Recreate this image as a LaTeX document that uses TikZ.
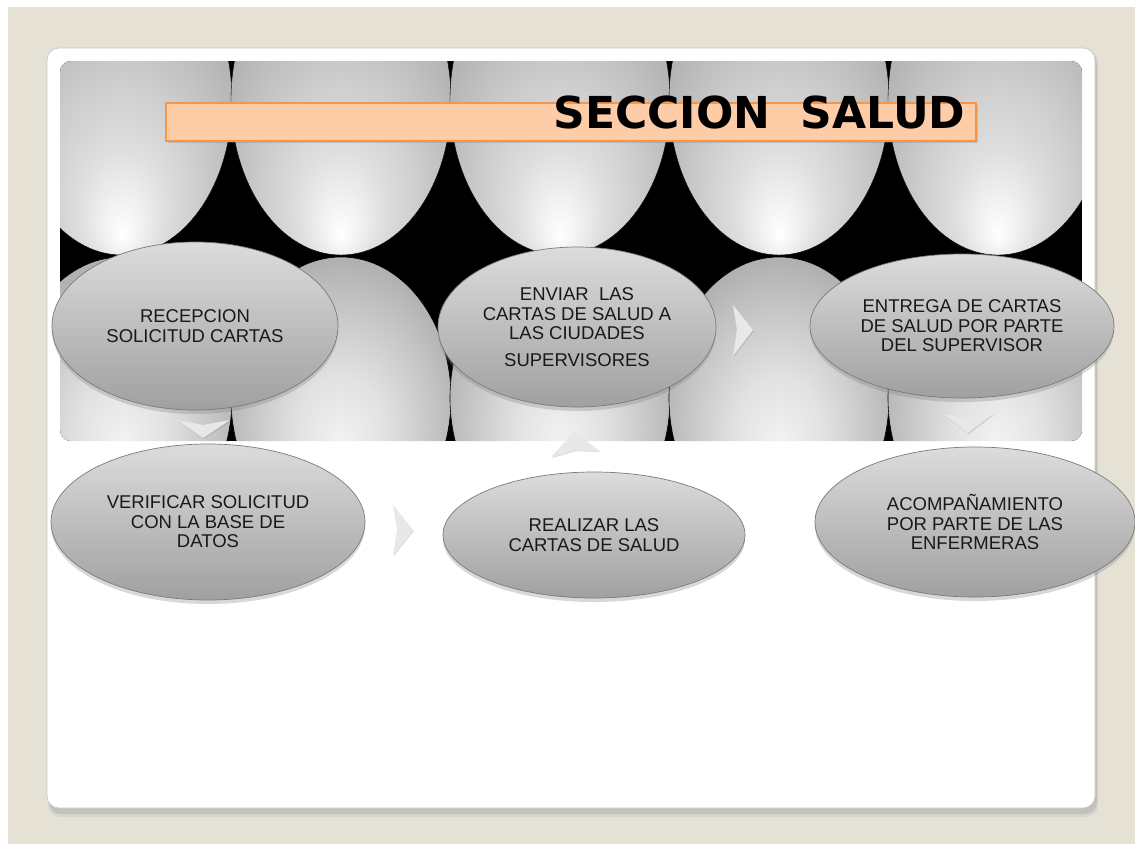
\documentclass[tikz,border=0pt]{standalone}
\usepackage{fontspec}
\setmainfont{Liberation Sans}
\newfontfamily\titlefont{DejaVu Sans}
\usetikzlibrary{shapes.geometric,shadows}

\definecolor{beige}{HTML}{E5E1D5}
\definecolor{barfill}{HTML}{FFCCA8}
\definecolor{barline}{HTML}{F79646}
\definecolor{bubtop}{HTML}{DCDCDC}
\definecolor{bubbot}{HTML}{A0A0A0}
\definecolor{bubline}{HTML}{7A7A7A}
\definecolor{chevfill}{HTML}{E8E8E8}
\definecolor{eA}{HTML}{FFFFFF}
\definecolor{eB}{HTML}{F2F2F2}
\definecolor{eC}{HTML}{DEDEDE}
\definecolor{eD}{HTML}{CCCCCC}
\definecolor{eE}{HTML}{B4B4B4}
\definecolor{eF}{HTML}{A0A0A0}
\definecolor{dA}{HTML}{F2F2F2}
\definecolor{dB}{HTML}{E2E2E2}
\definecolor{dC}{HTML}{C2C2C2}
\definecolor{dD}{HTML}{A2A2A2}
\definecolor{dE}{HTML}{9C9C9C}

\pgfdeclareradialshading{eggshade}{\pgfpoint{0bp}{-22bp}}{color(0bp)=(eA); color(4bp)=(eB); color(10bp)=(eC); color(18bp)=(eD); color(28bp)=(eE); color(40bp)=(eF); color(50bp)=(eF)}
\pgfdeclareradialshading{domeshade}{\pgfpoint{0bp}{-8bp}}{color(0bp)=(dA); color(10bp)=(dB); color(22bp)=(dC); color(33bp)=(dD); color(50bp)=(dE)}

\tikzset{
  bubble/.style={ellipse, draw=bubline, line width=0.7pt, top color=bubtop, bottom color=bubbot,
    inner sep=0pt, align=center, text=black!90, font=\fontsize{18.5}{19.5}\selectfont,
    drop shadow={opacity=0.3, shadow xshift=0pt, shadow yshift=-4pt}},
  chev/.style={fill=chevfill, draw=none, drop shadow={opacity=0.25, shadow xshift=0.8pt, shadow yshift=-1.2pt}},
  titletext/.style={anchor=base east, font=\titlefont\bfseries\fontsize{44}{44}\selectfont}
}

\begin{document}
\begin{tikzpicture}[x=1pt,y=-1pt]
\useasboundingbox (0,0) rectangle (1135,844);
\fill[white] (0,0) rectangle (1135,844);
\fill[beige] (8,7) rectangle (1135,844);

% card with shadow
\fill[black!40, opacity=0.35, rounded corners=12pt] (49,52) rectangle (1097,814);
\fill[black!30, opacity=0.25, rounded corners=12pt] (48,50) rectangle (1098,817);
\filldraw[fill=white, draw=black!22, line width=0.6pt, rounded corners=12pt] (47,48) rectangle (1095,808);

% picture panel
\begin{scope}
\clip[rounded corners=11pt] (60,61) rectangle (1082,441);
\fill[black] (60,61) rectangle (1082,441);
\foreach \cx in {122,341,560,779,998} {
  \shade[shading=domeshade, draw=black, line width=0.6pt] (\cx,398) ellipse [x radius=110, y radius=141];
}
\foreach \cx in {122,341,560,779,998} {
  \shade[shading=eggshade, draw=black, line width=0.4pt] (\cx,100) ellipse [x radius=110, y radius=155];
}
\end{scope}

% title bar
\draw[fill=barfill, draw=barline, line width=1.5pt, drop shadow={opacity=0.3, shadow xshift=1.5pt, shadow yshift=-2pt}] (166,103) rectangle (976,141);
\node[titletext] (title) at (969,128) {SECCION\ \ SALUD};

% process bubbles
\node[bubble, minimum width=286pt, minimum height=168pt] (recep) at (195,326) {RECEPCION\\SOLICITUD CARTAS};
\node[bubble, minimum width=314pt, minimum height=156pt] (verif) at (208,522) {VERIFICAR SOLICITUD\\CON LA BASE DE\\DATOS};
\node[bubble, minimum width=278pt, minimum height=160pt] (enviar) at (577,327) {ENVIAR\ \ LAS\\CARTAS DE SALUD A\\LAS CIUDADES\\[7pt]SUPERVISORES};
\node[bubble, minimum width=302pt, minimum height=126pt] (realiz) at (594,535) {REALIZAR LAS\\CARTAS DE SALUD};
\node[bubble, minimum width=304pt, minimum height=144pt] (entrega) at (962,326) {ENTREGA DE CARTAS\\DE SALUD POR PARTE\\DEL SUPERVISOR};
\node[bubble, minimum width=320pt, minimum height=150pt] (acomp) at (975,522) {ACOMPAÑAMIENTO\\POR PARTE DE LAS\\ENFERMERAS};

% chevrons
\path[chev] (177,420) -- (203,425) -- (230,420) -- (203,438) -- cycle;
\path[chev] (393,505) -- (413,530) -- (393,555) -- (397,530) -- cycle;
\path[chev] (551,457) -- (574,432) -- (600,451) -- (575,450) -- cycle;
\path[chev] (733,305) -- (753,330) -- (733,356) -- (737,330) -- cycle;
\path[chev] (943,414) -- (968,419) -- (993,414) -- (968,433) -- cycle;
\end{tikzpicture}
\end{document}
